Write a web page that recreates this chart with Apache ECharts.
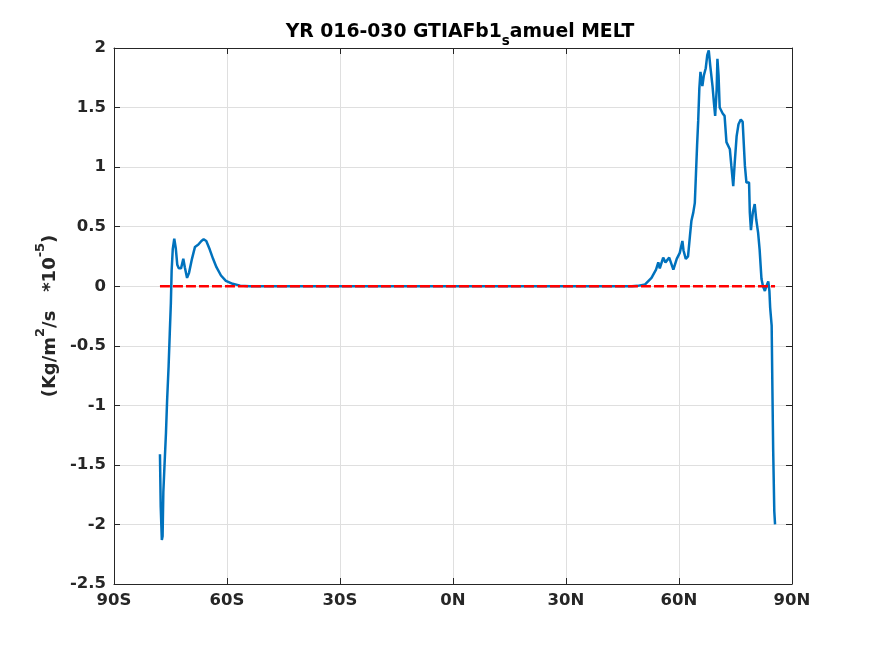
<!DOCTYPE html>
<html>
<head>
    <meta charset="UTF-8">
    <title>YR 016-030 MELT</title>
    <script src="https://cdn.jsdelivr.net/npm/echarts@6/dist/echarts.min.js"></script>
    <style>
        html, body { margin: 0; padding: 0; background: #fff; }
    </style>
</head>
<body>
    <div id="main" style="width: 875px; height: 656px;"></div>
    <script>
        // zonal mean melt, units 1e-5 Kg/m2/s
        var lat = [
            -77.8, -77.6, -77.3, -77.1, -76.9, -76.6, -76.2, -75.9, -75.5, -75.2,
            -74.9, -74.7, -74.4, -74.0, -73.6, -73.2, -72.8, -72.2, -71.6, -71.2,
            -70.6, -70.1, -69.3, -68.5, -67.6, -66.8, -66.2, -65.5, -64.6, -63.7,
            -62.8, -61.6, -60.3, -58.5, -56.5, -54.0, -30.0, 0.0, 30.0, 47.5,
            49.0, 51.0, 52.7, 53.9, 54.5, 54.9, 55.8, 56.4, 57.4, 58.5,
            59.4, 60.2, 60.9, 61.2, 61.8, 62.4, 62.9, 63.3, 63.8, 64.2,
            64.5, 64.8, 65.1, 65.4, 65.7, 66.2, 66.6, 67.1, 67.5, 67.9,
            68.3, 68.9, 69.3, 69.6, 70.0, 70.2, 70.5, 70.8, 71.6, 72.1,
            72.6, 73.5, 73.9, 74.4, 74.8, 75.3, 75.8, 76.4, 76.9, 77.5,
            77.9, 78.6, 78.8, 79.1, 79.6, 80.1, 80.5, 81.0, 81.4, 81.9,
            82.3, 82.8, 83.2, 83.7, 84.0, 84.2, 84.6, 84.8, 85.0, 85.3,
            85.5
        ];
        var melt = [
            -1.41, -1.85, -2.13, -2.10, -1.73, -1.51, -1.23, -0.96, -0.67, -0.40,
            -0.14, 0.13, 0.31, 0.40, 0.32, 0.18, 0.15, 0.15, 0.23, 0.16,
            0.07, 0.11, 0.23, 0.33, 0.35, 0.38, 0.395, 0.38, 0.31, 0.23,
            0.16, 0.09, 0.045, 0.02, 0.005, 0, 0, 0, 0, 0,
            0.003, 0.015, 0.07, 0.14, 0.20, 0.15, 0.24, 0.20, 0.24, 0.14,
            0.23, 0.28, 0.38, 0.30, 0.23, 0.25, 0.42, 0.55, 0.62, 0.70,
            0.94, 1.18, 1.39, 1.66, 1.80, 1.68, 1.77, 1.83, 1.94, 1.98,
            1.85, 1.68, 1.53, 1.43, 1.65, 1.91, 1.77, 1.50, 1.45, 1.43,
            1.21, 1.15, 1.01, 0.84, 1.04, 1.26, 1.36, 1.40, 1.38, 1.01,
            0.87, 0.87, 0.62, 0.47, 0.62, 0.69, 0.56, 0.45, 0.31, 0.06,
            0.0, -0.04, 0.0, 0.04, -0.04, -0.18, -0.33, -0.87, -1.37, -1.89,
            -2.00
        ];
        // red dashed reference line
        var refLat = [-77.8, 85.5];
        var refVal = [0, 0];

        var xTicks = [-90, -60, -30, 0, 30, 60, 90];
        var xTickLabels = ['90S', '60S', '30S', '0N', '30N', '60N', '90N'];

        var axisColor = '#262626';
        var gridColor = '#dfdfdf';
        var fontFam = 'DejaVu Sans';

        function pairs(xs, ys) {
            var out = [];
            for (var i = 0; i < xs.length; i++) out.push([xs[i], ys[i]]);
            return out;
        }

        var myChart = echarts.init(document.getElementById('main'));
        var option = {
            backgroundColor: '#fff',
            animation: false,
            title: {
                text: '{b|YR 016-030 GTIAFb1}{s|s}{b|amuel MELT}',
                left: 455,
                top: 18,
                textAlign: 'center',
                textStyle: {
                    rich: {
                        b: { fontFamily: fontFam, fontWeight: 'bold', fontSize: 18.8, color: '#000', lineHeight: 19, verticalAlign: 'top' },
                        s: { fontFamily: fontFam, fontWeight: 'bold', fontSize: 13.5, color: '#000', lineHeight: 13, padding: [11, 0, 0, 0], verticalAlign: 'top' }
                    }
                }
            },
            grid: {
                left: 114,
                right: 83,
                top: 48,
                bottom: 72,
                containLabel: false
            },
            xAxis: [
                {
                    type: 'value',
                    min: -90,
                    max: 90,
                    interval: 30,
                    axisLine: { onZero: false, lineStyle: { color: axisColor, width: 1 } },
                    axisTick: { inside: true, length: 6, lineStyle: { color: axisColor } },
                    splitLine: { show: true, lineStyle: { color: gridColor, width: 1 } },
                    axisLabel: {
                        color: axisColor,
                        fontFamily: fontFam,
                        fontWeight: 'bold',
                        fontSize: 16.5,
                        margin: 8,
                        formatter: function (v) {
                            var i = xTicks.indexOf(v);
                            return i >= 0 ? xTickLabels[i] : '';
                        }
                    }
                }, {
                    type: 'value',
                    position: 'top',
                    min: -90,
                    max: 90,
                    interval: 30,
                    axisLine: { onZero: false, lineStyle: { color: axisColor, width: 1 } },
                    axisTick: { inside: true, length: 6, lineStyle: { color: axisColor } },
                    splitLine: { show: false },
                    axisLabel: { show: false }
                }
            ],
            yAxis: [
                {
                    type: 'value',
                    min: -2.5,
                    max: 2,
                    interval: 0.5,
                    name: '{t|(Kg/m}{p|2}{t|/s   *10}{p|-5}{t|)}',
                    nameLocation: 'middle',
                    nameGap: 52,
                    nameRotate: 90,
                    nameTextStyle: {
                        rich: {
                            t: { fontFamily: fontFam, fontWeight: 'bold', fontSize: 18, color: axisColor, lineHeight: 18, padding: [7, 0, 0, 0], verticalAlign: 'top' },
                            p: { fontFamily: fontFam, fontWeight: 'bold', fontSize: 13, color: axisColor, lineHeight: 13, verticalAlign: 'top' }
                        }
                    },
                    axisLine: { show: true, onZero: false, lineStyle: { color: axisColor, width: 1 } },
                    axisTick: { show: true, inside: true, length: 6, lineStyle: { color: axisColor } },
                    splitLine: { show: true, lineStyle: { color: gridColor, width: 1 } },
                    axisLabel: {
                        color: axisColor,
                        fontFamily: fontFam,
                        fontWeight: 'bold',
                        fontSize: 16.5,
                        margin: 8
                    }
                }, {
                    type: 'value',
                    position: 'right',
                    min: -2.5,
                    max: 2,
                    interval: 0.5,
                    axisLine: { show: true, onZero: false, lineStyle: { color: axisColor, width: 1 } },
                    axisTick: { show: true, inside: true, length: 6, lineStyle: { color: axisColor } },
                    splitLine: { show: false },
                    axisLabel: { show: false }
                }
            ],
            series: [
                {
                    name: 'melt',
                    type: 'line',
                    data: pairs(lat, melt),
                    showSymbol: false,
                    symbol: 'none',
                    lineStyle: { color: '#0072BD', width: 2.5 },
                    z: 3
                }, {
                    name: 'zero',
                    type: 'line',
                    data: pairs(refLat, refVal),
                    showSymbol: false,
                    symbol: 'none',
                    lineStyle: { color: '#ff0000', width: 2.5, type: [10, 3] },
                    z: 4
                }
            ]
        };
        myChart.setOption(option);
    </script>
</body>
</html>
